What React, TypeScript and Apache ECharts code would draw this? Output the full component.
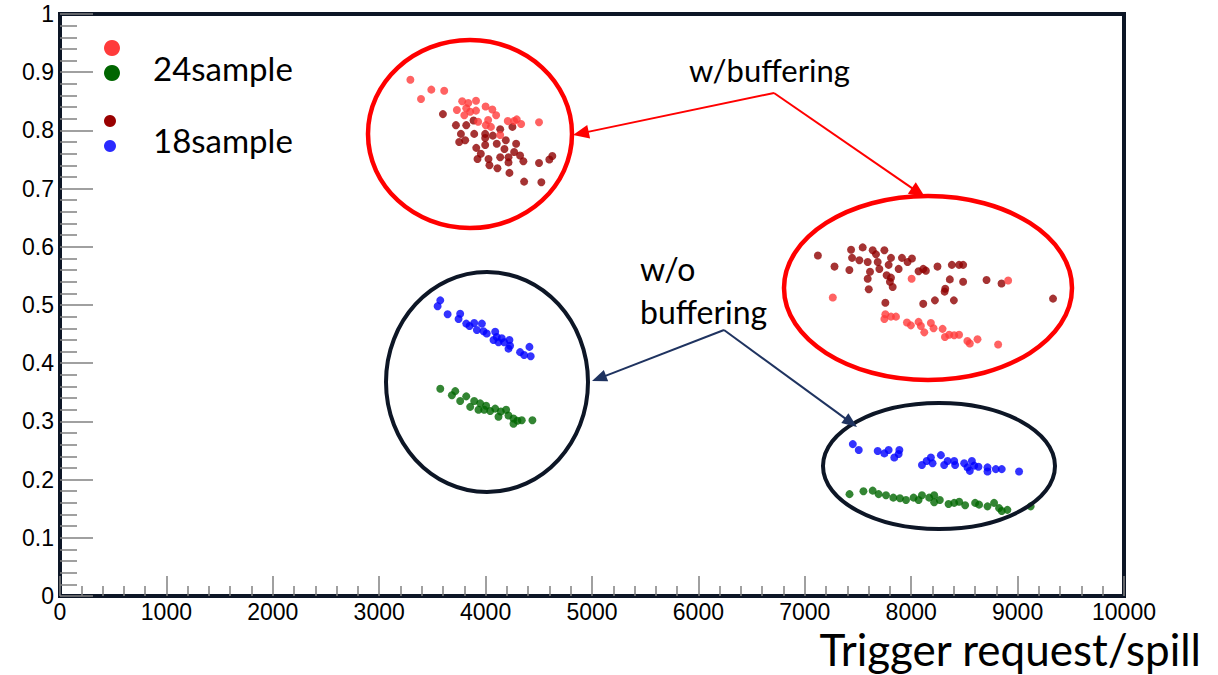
import React, { useEffect, useRef } from "react";
import * as echarts from "echarts";

// ---- Data ----
const xTicks = [0, 1000, 2000, 3000, 4000, 5000, 6000, 7000, 8000, 9000, 10000];
const yTicks = [0, 0.1, 0.2, 0.3, 0.4, 0.5, 0.6, 0.7, 0.8, 0.9, 1];

// 24 samples, with buffering (light red)
const red24Buffered: [number, number][] = [
  [3293, 0.887], [3393, 0.854], [3490, 0.87], [3611, 0.868], [3780, 0.85], [3730, 0.835], [3837, 0.847],
  [3910, 0.851], [3800, 0.826], [3855, 0.832], [3910, 0.834], [4000, 0.841], [4063, 0.836], [3930, 0.815],
  [4024, 0.818], [4099, 0.826], [4050, 0.806], [4208, 0.816], [4293, 0.819], [4334, 0.811], [4137, 0.792],
  [4502, 0.814], [4268, 0.816], [4002, 0.809], [3818, 0.838],
  [7263, 0.513], [8004, 0.545], [8911, 0.542], [7757, 0.484], [7748, 0.476], [7810, 0.48], [7857, 0.48],
  [7960, 0.47], [7997, 0.465], [8069, 0.471], [8091, 0.464], [8123, 0.453], [8185, 0.469], [8210, 0.46],
  [8295, 0.459], [8317, 0.445], [8357, 0.449], [8404, 0.448], [8450, 0.449], [8528, 0.438], [8551, 0.434],
  [8623, 0.441], [8817, 0.432],
];

// 18 samples, with buffering (dark red)
const darkRed18Buffered: [number, number][] = [
  [3599, 0.828], [3721, 0.809], [3818, 0.809], [3768, 0.794], [3752, 0.78], [3808, 0.783], [3893, 0.794],
  [3887, 0.817], [3996, 0.794], [3996, 0.787], [4068, 0.791], [4137, 0.802], [4252, 0.806], [4190, 0.783],
  [4105, 0.777], [3912, 0.77], [3996, 0.775], [4177, 0.768], [4287, 0.777], [4268, 0.763], [3955, 0.76],
  [4027, 0.751], [4137, 0.754], [4215, 0.754], [4324, 0.757], [4355, 0.747], [4036, 0.74], [4111, 0.735],
  [4224, 0.727], [4362, 0.712], [4524, 0.711], [4502, 0.744], [4599, 0.75], [4627, 0.756], [3924, 0.751],
  [4215, 0.745],
  [7123, 0.585], [7279, 0.566], [7419, 0.56], [7435, 0.595], [7444, 0.581], [7513, 0.577], [7544, 0.599],
  [7591, 0.574], [7638, 0.594], [7669, 0.587], [7685, 0.574], [7748, 0.594], [7613, 0.557], [7591, 0.545],
  [7601, 0.527], [7701, 0.562], [7788, 0.569], [7810, 0.581], [7769, 0.551], [7810, 0.547], [7800, 0.54],
  [7826, 0.531], [7882, 0.562], [7913, 0.581], [7966, 0.574], [8007, 0.58], [7757, 0.504], [8069, 0.558],
  [8113, 0.562], [8138, 0.559], [8247, 0.566], [8382, 0.569], [8450, 0.569], [8488, 0.569], [8363, 0.544],
  [8488, 0.54], [8320, 0.528], [8314, 0.523], [8113, 0.502], [8223, 0.508], [8401, 0.508], [8708, 0.543],
  [8849, 0.537], [9333, 0.511],
];

// 18 samples, without buffering (blue)
const blue18Unbuffered: [number, number][] = [
  [3574, 0.508], [3549, 0.498], [3643, 0.484], [3761, 0.485], [3746, 0.476], [3818, 0.468], [3893, 0.469],
  [3849, 0.464], [3965, 0.468], [3918, 0.457], [3980, 0.455], [4011, 0.451], [4090, 0.454], [4105, 0.445],
  [4074, 0.44], [4152, 0.443], [4174, 0.436], [4224, 0.44], [4230, 0.43], [4215, 0.425], [4121, 0.436],
  [4324, 0.419], [4362, 0.414], [4412, 0.428], [4424, 0.412],
  [7451, 0.261], [7507, 0.251], [7685, 0.249], [7748, 0.245], [7788, 0.251], [7889, 0.251], [7882, 0.244],
  [7841, 0.238], [8101, 0.225], [8145, 0.232], [8185, 0.238], [8201, 0.228], [8279, 0.242], [8310, 0.225],
  [8342, 0.232], [8404, 0.232], [8413, 0.225], [8498, 0.228], [8529, 0.221], [8570, 0.232], [8592, 0.224],
  [8551, 0.215], [8632, 0.222], [8717, 0.221], [8717, 0.214], [8795, 0.218], [8851, 0.218], [9014, 0.214],
];

// 24 samples, without buffering (green)
const green24Unbuffered: [number, number][] = [
  [3574, 0.356], [3683, 0.345], [3715, 0.352], [3761, 0.335], [3818, 0.343], [3855, 0.325], [3893, 0.335],
  [3933, 0.32], [3949, 0.331], [4005, 0.327], [4043, 0.318], [4090, 0.322], [4121, 0.308], [4143, 0.317],
  [4193, 0.32], [4215, 0.31], [4262, 0.305], [4299, 0.301], [4340, 0.302], [4262, 0.296], [4440, 0.302],
  [3987, 0.32],
  [7420, 0.175], [7551, 0.18], [7638, 0.181], [7694, 0.175], [7763, 0.173], [7832, 0.169], [7894, 0.168],
  [7951, 0.165], [8022, 0.169], [8069, 0.165], [8101, 0.173], [8169, 0.169], [8216, 0.173], [8216, 0.161],
  [8269, 0.165], [8351, 0.158], [8404, 0.16], [8451, 0.162], [8507, 0.156], [8601, 0.16], [8638, 0.157],
  [8717, 0.154], [8779, 0.16], [8826, 0.151], [8851, 0.146], [8904, 0.148], [9123, 0.154],
];

const legendLabels = ["24sample", "18sample"];
const xAxisTitle = "Trigger request/spill";
const annotationBuffered = "w/buffering";
const annotationUnbuffered = ["w/o", "buffering"];

// ---- Styling ----
const LIGHT_RED = "#ff3b3b";
const DARK_RED = "#8f0000";
const BLUE = "#0000ff";
const GREEN = "#006600";
const FRAME = "#0d1626";
const NAVY = "#1f3360";
const GILL = "Lato, 'Open Sans', sans-serif";
const AXIS_FONT = "'Liberation Sans', Arial, sans-serif";

function arrow(from: number[], to: number[], color: string, lw: number, headLen: number, headW: number) {
  const dx = to[0] - from[0];
  const dy = to[1] - from[1];
  const len = Math.sqrt(dx * dx + dy * dy);
  const ux = dx / len;
  const uy = dy / len;
  const bx = to[0] - ux * headLen;
  const by = to[1] - uy * headLen;
  const px = -uy * headW;
  const py = ux * headW;
  return [
    {
      type: "line",
      shape: { x1: from[0], y1: from[1], x2: bx + ux * 2, y2: by + uy * 2 },
      style: { stroke: color, lineWidth: lw },
      z: 100,
    },
    {
      type: "polygon",
      shape: { points: [[to[0], to[1]], [bx + px, by + py], [bx - px, by - py]] },
      style: { fill: color },
      z: 100,
    },
  ];
}

export default function App() {
  const ref = useRef<HTMLDivElement>(null);

  useEffect(() => {
    if (!ref.current) return;
    const chart = echarts.init(ref.current, undefined, { renderer: "svg" });

    const tickStyle = { color: "#808080", width: 1.5 };

    const option: any = {
      animation: false,
      backgroundColor: "#ffffff",
      grid: {
        left: 60,
        right: 94,
        top: 14,
        bottom: 79,
        show: true,
        borderColor: FRAME,
        borderWidth: 4,
        backgroundColor: "transparent",
      },
      xAxis: {
        type: "value",
        min: xTicks[0],
        max: xTicks[xTicks.length - 1],
        interval: 1000,
        axisLine: { show: true, lineStyle: { color: FRAME, width: 4 } },
        axisTick: { show: true, inside: true, length: 20, lineStyle: tickStyle },
        minorTick: { show: true, splitNumber: 5, length: 10, lineStyle: tickStyle },
        splitLine: { show: false },
        axisLabel: {
          color: "#000",
          fontSize: 23,
          lineHeight: 20,
          fontFamily: AXIS_FONT,
          margin: 6,
          formatter: (v: number) => String(v),
        },
      },
      yAxis: {
        type: "value",
        min: yTicks[0],
        max: yTicks[yTicks.length - 1],
        interval: 0.1,
        axisLine: { show: true, lineStyle: { color: FRAME, width: 4 } },
        axisTick: { show: true, inside: true, length: 33, lineStyle: tickStyle },
        minorTick: { show: true, splitNumber: 5, length: 17, lineStyle: tickStyle },
        splitLine: { show: false },
        axisLabel: {
          color: "#000",
          fontSize: 23,
          fontFamily: AXIS_FONT,
          margin: 6,
          formatter: (v: number) => String(Math.round(v * 10) / 10),
        },
      },
      series: [
        { name: "18sample buffered", type: "scatter", data: darkRed18Buffered, symbolSize: 8, itemStyle: { color: DARK_RED } },
        { name: "24sample buffered", type: "scatter", data: red24Buffered, symbolSize: 8, itemStyle: { color: LIGHT_RED } },
        { name: "18sample unbuffered", type: "scatter", data: blue18Unbuffered, symbolSize: 8, itemStyle: { color: BLUE } },
        { name: "24sample unbuffered", type: "scatter", data: green24Unbuffered, symbolSize: 8, itemStyle: { color: GREEN } },
      ],
      graphic: [
        // legend
        { type: "circle", shape: { cx: 112, cy: 48, r: 8 }, style: { fill: LIGHT_RED }, z: 100 },
        { type: "circle", shape: { cx: 112, cy: 73, r: 8 }, style: { fill: GREEN }, z: 100 },
        { type: "circle", shape: { cx: 110, cy: 121, r: 6 }, style: { fill: "#990000" }, z: 100 },
        { type: "circle", shape: { cx: 110, cy: 146, r: 6 }, style: { fill: "#2a2aff" }, z: 100 },
        {
          type: "text", z: 100,
          style: { x: 153, y: 68, text: legendLabels[0], font: `33px ${GILL}`, fill: "#000", verticalAlign: "middle", align: "left" },
        },
        {
          type: "text", z: 100,
          style: { x: 153, y: 140, text: legendLabels[1], font: `33px ${GILL}`, fill: "#000", verticalAlign: "middle", align: "left" },
        },
        // ellipses
        { type: "ellipse", shape: { cx: 470, cy: 134, rx: 102, ry: 94 }, style: { fill: "none", stroke: "#ff0000", lineWidth: 4.5 }, z: 90 },
        { type: "ellipse", shape: { cx: 928, cy: 288, rx: 144, ry: 92 }, style: { fill: "none", stroke: "#ff0000", lineWidth: 4.5 }, z: 90 },
        { type: "ellipse", shape: { cx: 487, cy: 382, rx: 101, ry: 110 }, style: { fill: "none", stroke: FRAME, lineWidth: 4 }, z: 90 },
        { type: "ellipse", shape: { cx: 939, cy: 466, rx: 116, ry: 63 }, style: { fill: "none", stroke: FRAME, lineWidth: 4 }, z: 90 },
        // annotation texts
        {
          type: "text", z: 100,
          style: { x: 689, y: 70, text: annotationBuffered, font: `31px ${GILL}`, fill: "#000", verticalAlign: "middle", align: "left" },
        },
        {
          type: "text", z: 100,
          style: { x: 640, y: 268, text: annotationUnbuffered[0], font: `32px ${GILL}`, fill: "#000", verticalAlign: "middle", align: "left" },
        },
        {
          type: "text", z: 100,
          style: { x: 640, y: 311, text: annotationUnbuffered[1], font: `32px ${GILL}`, fill: "#000", verticalAlign: "middle", align: "left" },
        },
        // arrows
        ...arrow([774, 93], [573, 135], "#ff0000", 2, 16, 7),
        ...arrow([774, 93], [925, 197], "#ff0000", 2, 16, 7),
        ...arrow([724, 330], [592, 381], NAVY, 2, 15, 6),
        ...arrow([724, 330], [857, 427], NAVY, 2, 15, 6),
        // x axis title
        {
          type: "text", z: 100,
          style: { x: 1201, y: 649, text: xAxisTitle, font: `44px ${GILL}`, lineHeight: 44, fill: "#000", verticalAlign: "middle", align: "right" },
        },
      ],
    };

    chart.setOption(option);
    return () => chart.dispose();
  }, []);

  return (
    <div
      ref={ref}
      style={{ position: "fixed", left: 0, top: 0, width: 1218, height: 675, background: "#fff" }}
    />
  );
}
